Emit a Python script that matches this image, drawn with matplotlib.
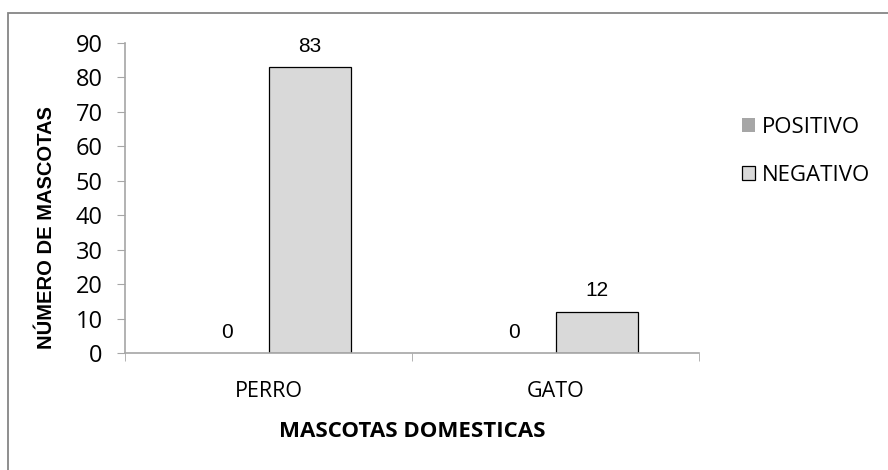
import matplotlib.pyplot as plt
import numpy as np
from matplotlib.patches import Rectangle

categorias = ["PERRO", "GATO"]
positivo = [0, 0]
negativo = [83, 12]
series = ["POSITIVO", "NEGATIVO"]

fig = plt.figure(figsize=(8.88, 4.70), dpi=100)
ax = fig.add_axes([125 / 888, 1 - 353 / 470, 574 / 888, 310 / 470])

# marco exterior del grafico
fig.patches.append(Rectangle((8 / 888, -0.1), 1.2, 1 - 13 / 470 + 0.1,
                             transform=fig.transFigure, fill=False,
                             edgecolor="#868686", linewidth=1.3))

x = np.arange(len(categorias))
w = 0.286
b1 = ax.bar(x - w / 2, positivo, w, color="#A6A6A6", label=series[0])
b2 = ax.bar(x + w / 2, negativo, w, color="#D9D9D9", edgecolor="black",
            linewidth=0.9, label=series[1])

for barras in (b1, b2):
    for r in barras:
        ax.annotate(str(int(r.get_height())),
                    (r.get_x() + r.get_width() / 2, r.get_height()),
                    xytext=(0, 11), textcoords="offset points",
                    ha="center", va="baseline",
                    fontsize=15, family="Liberation Sans")

ax.set_xlim(-0.5, 1.5)
ax.set_ylim(0, 90)
ax.set_yticks(range(0, 91, 10))
ax.set_xticks(x)
ax.set_xticklabels(categorias, fontsize=15.5, family="Open Sans")
ax.set_xticks([-0.5, 0.5, 1.5], minor=True)
ax.tick_params(axis="x", which="major", length=0, pad=20)
ax.tick_params(axis="x", which="minor", length=6, color="#A6A6A6", direction="out")
ax.tick_params(axis="y", length=6, color="#A6A6A6", labelsize=17, pad=10)
for t in ax.get_yticklabels():
    t.set_family("Open Sans")

for s in ["top", "right"]:
    ax.spines[s].set_visible(False)
for s in ["left", "bottom"]:
    ax.spines[s].set_color("#A6A6A6")
    ax.spines[s].set_linewidth(1.2)

ax.set_xlabel("MASCOTAS DOMESTICAS", fontsize=16, fontweight="bold",
              family="Open Sans", labelpad=14)
fig.text(47 / 888, 1 - 228 / 470, "NÚMERO DE MASCOTAS", rotation=90,
         ha="center", va="center", fontsize=14.5, fontweight="bold",
         family="Liberation Sans")

ax.legend(loc="center left", bbox_to_anchor=(1.075, 0.65), frameon=False,
          prop={"family": "Open Sans", "size": 16}, handlelength=0.6,
          handleheight=0.6, handletextpad=0.3, labelspacing=1.2,
          borderaxespad=0, borderpad=0)

fig.savefig("out.png", dpi=100)
